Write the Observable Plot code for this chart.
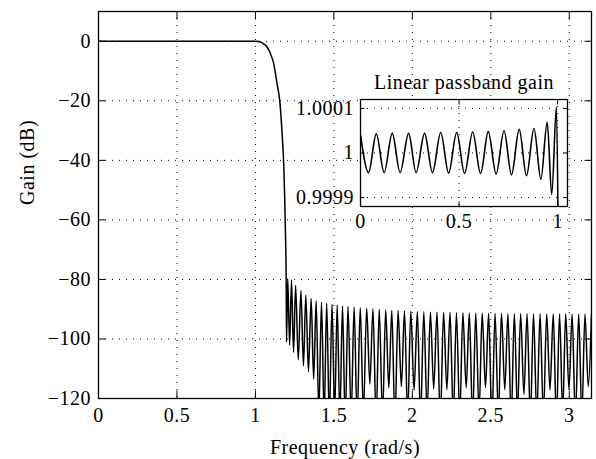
<!DOCTYPE html>
<html><head><meta charset="utf-8">
<script src="https://cdn.jsdelivr.net/npm/d3@7"></script>
<script src="https://cdn.jsdelivr.net/npm/@observablehq/plot@0.6"></script>
<style>html,body{margin:0;padding:0;background:#fff;}</style>
</head><body><div id="chart"></div>
<script>
// ---- Main plot data (frequency in rad/s, gain in dB) ----
const xTicks = [0, 0.5, 1, 1.5, 2, 2.5, 3];
const yTicks = [-120, -100, -80, -60, -40, -20, 0];
const xLabel = "Frequency (rad/s)";
const yLabel = "Gain (dB)";

// passband + transition band
const transFreq = [0, 0.25, 0.5, 0.75, 0.95, 1.0, 1.02, 1.035, 1.053, 1.075, 1.096, 1.117, 1.138, 1.155, 1.170, 1.181, 1.187, 1.191, 1.196, 1.198];
const transGain = [0, 0, 0, 0, 0, 0, -0.05, -0.3, -0.9, -2, -4.2, -7.6, -14.3, -20, -31, -42.3, -53.5, -63.5, -80.3, -101];

// stopband lobe peaks
const peakFreq = [1.206, 1.230, 1.256, 1.290, 1.321, 1.355, 1.387, 1.421, 1.454, 1.488, 1.521, 1.555, 1.590, 1.629, 1.668, 1.709, 1.749, 1.789, 1.830, 1.869, 1.909, 1.950, 1.990, 2.032, 2.073, 2.115, 2.157, 2.199, 2.240, 2.281, 2.322, 2.363, 2.404, 2.445, 2.486, 2.527, 2.568, 2.609, 2.650, 2.690, 2.731, 2.772, 2.814, 2.856, 2.898, 2.938, 2.977, 3.018, 3.060, 3.100, 3.1416];
const peakGain = [-79.8, -80.2, -82.0, -83.8, -85.3, -86.4, -87.2, -87.7, -88.0, -88.3, -88.6, -88.9, -89.1, -89.3, -89.5, -89.7, -89.9, -90.1, -90.3, -90.4, -90.5, -90.6, -90.7, -90.8, -90.9, -91.0, -91.0, -91.1, -91.1, -91.2, -91.2, -91.3, -91.3, -91.3, -91.4, -91.4, -91.4, -91.5, -91.5, -91.5, -91.5, -91.6, -91.6, -91.6, -91.6, -91.6, -91.6, -91.7, -91.7, -91.7, -91.7];
// stopband nulls (between peaks); those below -120 are off the chart
const nullFreq = [1.218, 1.243, 1.273, 1.306, 1.338, 1.371, 1.404, 1.438, 1.471, 1.505, 1.538, 1.572, 1.610, 1.648, 1.688, 1.729, 1.769, 1.810, 1.850, 1.889, 1.930, 1.970, 2.011, 2.052, 2.094, 2.136, 2.178, 2.220, 2.261, 2.302, 2.343, 2.384, 2.425, 2.466, 2.507, 2.548, 2.589, 2.630, 2.670, 2.711, 2.752, 2.793, 2.835, 2.877, 2.918, 2.958, 2.998, 3.039, 3.080, 3.121];
const nullGain = [-102, -104.5, -107, -109, -111, -113.5, -125, -126, -127, -125, -126, -128, -126, -127, -125, -115.2, -127, -126, -116.4, -128, -116, -126, -117.2, -127, -125, -116.7, -128, -117, -126, -126, -116.4, -127, -125, -116.4, -128, -126, -117, -127, -125, -118.6, -127, -126, -126, -117.2, -128, -125, -117, -127, -126, -116];

// ---- Inset data (linear passband gain) ----
const insetXTicks = [0, 0.5, 1];
const insetYTicks = [0.9999, 1, 1.0001];
const insetTitle = "Linear passband gain";
const insetFreq = [0, 0.041, 0.080, 0.120, 0.161, 0.201, 0.244, 0.282, 0.325, 0.365, 0.407, 0.447, 0.488, 0.528, 0.569, 0.609, 0.648, 0.688, 0.728, 0.766, 0.805, 0.842, 0.880, 0.915, 0.947, 0.970, 0.994, 1.004];
const insetGain = [1.0000414, 0.999956, 1.000043, 0.999956, 1.000044, 0.999956, 1.000044, 0.999956, 1.000044, 0.999956, 1.000046, 0.999955, 1.000046, 0.999954, 1.000047, 0.999954, 1.000048, 0.9999525, 1.000050, 0.999951, 1.000053, 0.999949, 1.000055, 0.999941, 1.000069, 0.999907, 1.000103, 0.99975];

// ---- build tables ----
const mainData = transFreq.map((f, i) => ({f, g: transGain[i]}));
peakFreq.forEach((f, i) => {
  mainData.push({f, g: peakGain[i]});
  if (i < nullFreq.length) mainData.push({f: nullFreq[i], g: nullGain[i]});
});
const insetData = insetFreq.map((f, i) => ({f, g: insetGain[i]}));

const fmt = d => d < 0 ? "\u2212" + Math.abs(d) : String(d);
const FONT = "'Liberation Serif', 'Times New Roman', serif";
const dotted = {stroke: "black", strokeOpacity: 1, strokeWidth: 1, strokeDasharray: "1,6"};

const main = Plot.plot({
  width: 596, height: 459,
  marginLeft: 98, marginRight: 5, marginTop: 11, marginBottom: 61,
  style: {fontFamily: FONT, fontSize: "20px", background: "white", color: "black"},
  x: {domain: [0, Math.PI]},
  y: {domain: [-120, 10]},
  marks: [
    Plot.gridX(xTicks.filter(d => d > 0), dotted),
    Plot.gridY(yTicks.filter(d => d > -120), dotted),
    Plot.line(mainData, {x: "f", y: "g", curve: "monotone-x", stroke: "black", strokeWidth: 1.5, clip: true}),
    Plot.frame({stroke: "black", strokeWidth: 1.3}),
    Plot.axisX({ticks: xTicks, anchor: "bottom", tickSize: -7.5, tickPadding: 16.5, tickFormat: fmt, label: null}),
    Plot.axisX({ticks: xTicks, anchor: "top", tickSize: -7.5, fill: "none", label: null}),
    Plot.axisY({ticks: yTicks, anchor: "left", tickSize: -7.5, tickPadding: 15, tickFormat: fmt, label: null}),
    Plot.axisY({ticks: yTicks, anchor: "right", tickSize: -7.5, fill: "none", label: null}),
    Plot.text([xLabel], {text: d => d, frameAnchor: "bottom", dy: 48.6, lineAnchor: "middle", fill: "black"}),
    Plot.text([yLabel], {text: d => d, frameAnchor: "left", dx: -71, rotate: -90, lineAnchor: "middle", fill: "black"})
  ]
});

const inset = Plot.plot({
  width: 310, height: 170,
  marginLeft: 80, marginRight: 23, marginTop: 39, marginBottom: 24,
  style: {fontFamily: FONT, fontSize: "20px", background: "transparent", color: "black"},
  x: {domain: [0, 1.05]},
  y: {domain: [0.99988, 1.00012]},
  marks: [
    Plot.frame({fill: "white"}),
    Plot.gridX([0.5, 1], dotted),
    Plot.gridY(insetYTicks, dotted),
    Plot.line(insetData, {x: "f", y: "g", curve: "monotone-x", stroke: "black", strokeWidth: 1.6, clip: true}),
    Plot.frame({stroke: "black", strokeWidth: 1.3}),
    Plot.axisX({ticks: insetXTicks, anchor: "bottom", tickSize: -4.5, tickPadding: 11.5, tickFormat: d => String(d), label: null}),
    Plot.axisX({ticks: insetXTicks, anchor: "top", tickSize: -4.5, fill: "none", label: null}),
    Plot.axisY({ticks: insetYTicks, anchor: "left", tickSize: -4.5, tickPadding: 11, tickFormat: d => String(d), label: null}),
    Plot.axisY({ticks: insetYTicks, anchor: "right", tickSize: -4.5, fill: "none", label: null}),
    Plot.text([insetTitle], {text: d => d, frameAnchor: "top", dy: -17.4, lineAnchor: "middle", fill: "black"})
  ]
});

const g = document.createElementNS("http://www.w3.org/2000/svg", "g");
g.setAttribute("transform", "translate(280,60)");
while (inset.firstChild) g.appendChild(inset.firstChild);
main.appendChild(g);
main.style.letterSpacing = "0.5px";
document.getElementById("chart").appendChild(main);
</script>
</body></html>
